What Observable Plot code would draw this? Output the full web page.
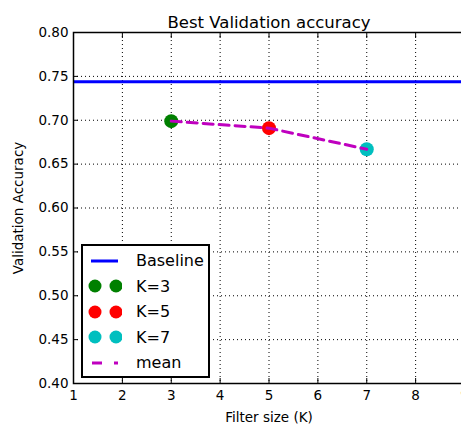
<!DOCTYPE html>
<html><head>
<meta charset="utf-8">
<script src="https://cdn.jsdelivr.net/npm/d3@7"></script>
<script src="https://cdn.jsdelivr.net/npm/@observablehq/plot@0.6"></script>
<style>
body{margin:0;background:#fff;font-family:"DejaVu Sans",sans-serif;}
#wrap{position:relative;width:461px;height:428px;overflow:hidden;}
#legend{position:absolute;left:81px;top:244px;width:125px;height:128px;border:2px solid #000;background:#fff;padding-top:2px;box-sizing:content-box;}
.row{display:flex;align-items:center;height:25.5px;}
.row svg{margin-left:3px;flex:none;}
.row span{margin-left:14px;font-size:16px;color:#000;}
</style>
</head><body><div id="wrap"></div>
<script>
const title = "Best Validation accuracy";
const xLabel = "Filter size (K)";
const yLabel = "Validation Accuracy";
const filterSizes = [3, 5, 7];
const accuracies = [0.699, 0.691, 0.667];
const seriesNames = ["K=3", "K=5", "K=7"];
const seriesColors = ["#008000", "#ff0000", "#00bfbf"];
const baselineValue = 0.744;
const baselineName = "Baseline";
const meanName = "mean";
const xTicks = [1, 2, 3, 4, 5, 6, 7, 8, 9];
const yTicks = [0.40, 0.45, 0.50, 0.55, 0.60, 0.65, 0.70, 0.75, 0.80];

const data = filterSizes.map((k, i) => ({k, acc: accuracies[i], name: seriesNames[i], color: seriesColors[i]}));
const meanColor = "#bf00bf";
const baseColor = "#0000ff";

const chart = Plot.plot({
  width: 461,
  height: 428,
  marginTop: 32,
  marginBottom: 45,
  marginLeft: 73,
  marginRight: -3,
  style: {fontFamily: "DejaVu Sans", fontSize: "13px", color: "#000", background: "#fff"},
  x: {domain: [1, 9]},
  y: {domain: [0.4, 0.8]},
  marks: [
    Plot.gridX(xTicks, {stroke: "#000", strokeOpacity: 1, strokeWidth: 1, strokeDasharray: "1,3"}),
    Plot.gridY(yTicks, {stroke: "#000", strokeOpacity: 1, strokeWidth: 1, strokeDasharray: "1,3"}),
    Plot.ruleY([baselineValue], {stroke: baseColor, strokeWidth: 3}),
    Plot.dot(data, {x: "k", y: "acc", fill: "color", r: 7}),
    Plot.line(data, {x: "k", y: "acc", stroke: meanColor, strokeWidth: 3, strokeDasharray: "10,6"}),
    Plot.frame({stroke: "#000", strokeWidth: 1.5}),
    Plot.axisX(xTicks, {anchor: "bottom", tickSize: -5, tickPadding: 12, tickFormat: d => String(d), fontSize: 13.5, label: xLabel, labelAnchor: "center", labelArrow: "none", labelOffset: 38}),
    Plot.axisX(xTicks, {anchor: "top", tickSize: -5, tickFormat: () => "", label: null}),
    Plot.axisY(yTicks, {anchor: "left", tickSize: -5, tickPadding: 10, tickFormat: d3.format(".2f"), fontSize: 13.5, label: yLabel, labelAnchor: "center", labelArrow: "none", labelOffset: 60}),
    Plot.text([title], {frameAnchor: "top", dy: -16, fontSize: 16.5, fill: "#000"})
  ]
});
const wrap = document.getElementById("wrap");
wrap.appendChild(chart);

// legend
const legend = d3.select(wrap).append("div").attr("id", "legend");
const entries = [{name: baselineName, type: "line", color: baseColor}]
  .concat(data.map(d => ({name: d.name, type: "dots", color: d.color})))
  .concat([{name: meanName, type: "dash", color: meanColor}]);
entries.forEach(e => {
  const row = legend.append("div").attr("class", "row");
  const svg = row.append("svg").attr("width", 36).attr("height", 20);
  if (e.type === "line") {
    svg.append("line").attr("x1", 5).attr("x2", 32).attr("y1", 10).attr("y2", 10).attr("stroke", e.color).attr("stroke-width", 3);
  } else if (e.type === "dots") {
    svg.append("circle").attr("cx", 9).attr("cy", 10).attr("r", 6.5).attr("fill", e.color);
    svg.append("circle").attr("cx", 30).attr("cy", 10).attr("r", 6.5).attr("fill", e.color);
  } else {
    svg.append("line").attr("x1", 6).attr("x2", 32).attr("y1", 10).attr("y2", 10).attr("stroke", e.color).attr("stroke-width", 3).attr("stroke-dasharray", "10,12");
  }
  row.append("span").text(e.name);
});
</script>
</body></html>
